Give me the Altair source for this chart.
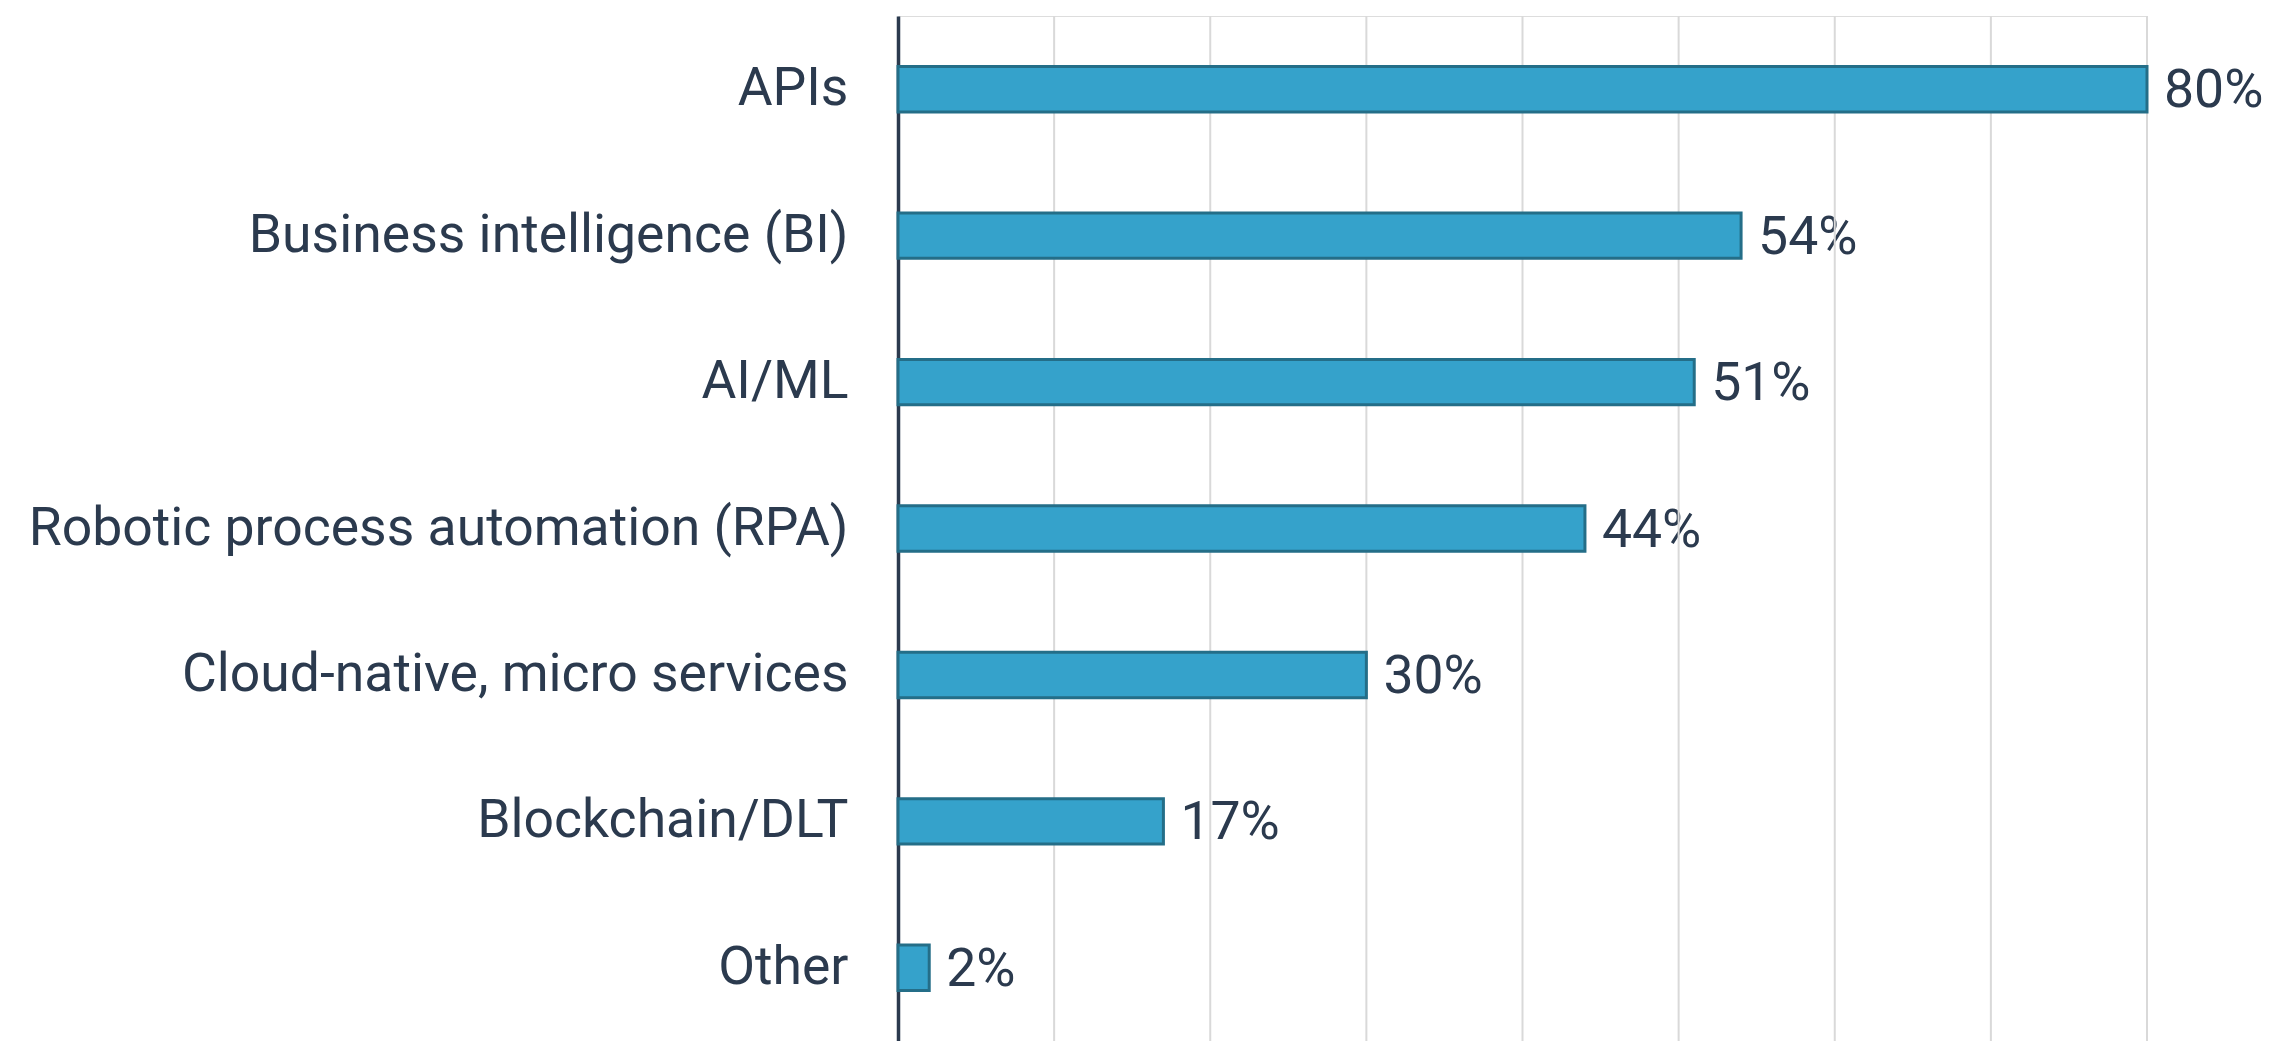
import altair as alt
import pandas as pd

categories = ["APIs", "Business intelligence (BI)", "AI/ML",
              "Robotic process automation (RPA)", "Cloud-native, micro services",
              "Blockchain/DLT", "Other"]
values = [80, 54, 51, 44, 30, 17, 2]
labels = [f"{v}%" for v in values]
grid_values = [10, 20, 30, 40, 50, 60, 70, 80]

df = pd.DataFrame({"cat": categories, "val": values, "lab": labels})
gdf = pd.DataFrame({"g": grid_values})

TEXT = "#2b3a4e"
FONT = "Roboto"
FS = 53.5

y = alt.Y("cat:N", sort=categories,
          scale=alt.Scale(paddingInner=0.69, paddingOuter=0.345),
          axis=alt.Axis(title=None, ticks=False, labelPadding=50, labelFontSize=FS,
                        labelFont=FONT, labelColor=TEXT, domainColor="#2b3a4e",
                        domainWidth=3.5, grid=False, labelLimit=1000))
xscale = alt.Scale(domain=[0, 80], nice=False)
x = alt.X("val:Q", scale=xscale,
          axis=alt.Axis(title=None, labels=False, ticks=False, domain=False, grid=False))

text = alt.Chart(df).mark_text(align="left", baseline="middle", dx=17, dy=2, fontSize=FS,
                               font=FONT, color=TEXT).encode(x=x, y=y, text="lab:N")
grid = alt.Chart(gdf).mark_rule(color="#d9d9d9", strokeWidth=2).encode(
    x=alt.X("g:Q", scale=xscale, axis=None))
bars = alt.Chart(df).mark_bar(color="#35a2cb", stroke="#246e88", strokeWidth=3).encode(x=x, y=y)

chart = (text + grid + bars).properties(
    width=1249, height=1025,
    autosize=alt.AutoSizeParams(type="none"),
    padding={"left": 898, "top": 16, "right": 135, "bottom": 0},
).configure_view(stroke=None).configure(background="white")

chart.save("out.html", embed_options={"renderer": "svg", "actions": False})
